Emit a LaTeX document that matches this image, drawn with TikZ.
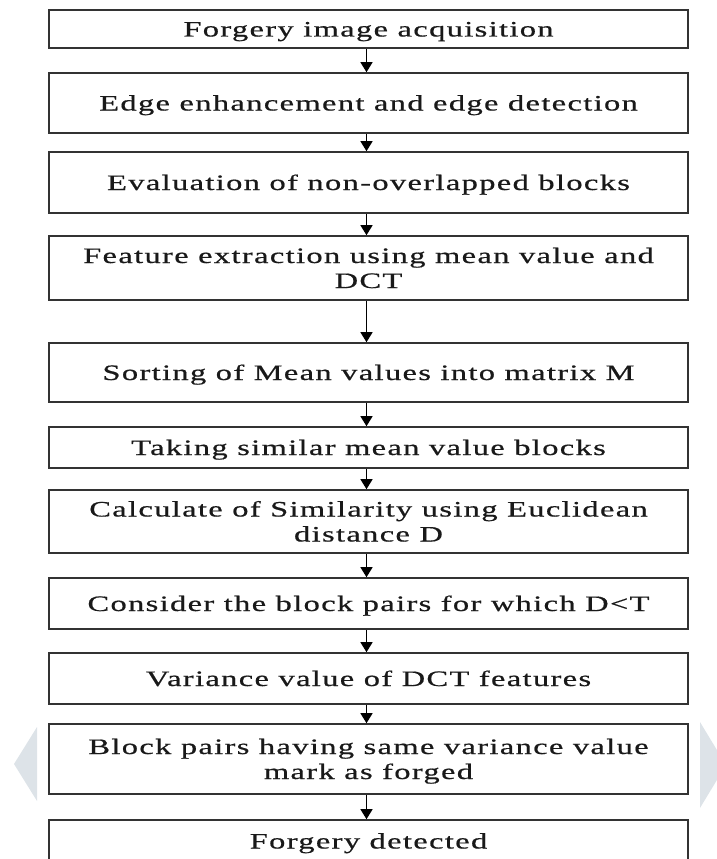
\documentclass[tikz,border=0pt]{standalone}
\usepackage{fontspec}
\usetikzlibrary{arrows.meta}
\newfontfamily\flowfont[FakeStretch=1.48,LetterSpace=6,FakeBold=0.6]{Liberation Serif}
\definecolor{edgegray}{HTML}{333333}
\definecolor{sidegray}{HTML}{DDE3E8}
\begin{document}
\begin{tikzpicture}[x=1pt,y=-1pt,
  stage/.style={draw=edgegray, line width=1.6pt, minimum width=639pt, inner sep=0pt,
    align=center, font=\flowfont\fontsize{22pt}{25pt}\selectfont, text=black!90},
  oneline/.style={text height=15pt, text depth=0pt},
  twoline/.style={text height=40pt, text depth=0pt},
  flow/.style={line width=1.3pt, draw=black, -{Triangle[width=12pt,length=10pt]}}]
\useasboundingbox (0,0) rectangle (717,859);
\clip (0,0) rectangle (717,859);
% light side arrows
\fill[sidegray] (37,727) -- (37,801) -- (14,764) -- cycle;
\fill[sidegray] (700,722) -- (700,808) -- (726,765) -- cycle;
% stages
\node[stage, oneline, minimum height=38pt] (b1) at (368.5,29) {Forgery image acquisition};
\node[stage, oneline, minimum height=60pt] (b2) at (368.5,103) {Edge enhancement and edge detection};
\node[stage, oneline, minimum height=61pt] (b3) at (368.5,182.5) {Evaluation of non-overlapped blocks};
\node[stage, twoline, minimum height=64pt] (b4) at (368.5,268) {Feature extraction using mean value and\\DCT};
\node[stage, oneline, minimum height=59pt] (b5) at (368.5,372.5) {Sorting of Mean values into matrix M};
\node[stage, oneline, minimum height=41pt] (b6) at (368.5,447.5) {Taking similar mean value blocks};
\node[stage, twoline, minimum height=63pt] (b7) at (368.5,521.5) {Calculate of Similarity using Euclidean\\distance D};
\node[stage, oneline, minimum height=51pt] (b8) at (368.5,603.5) {Consider the block pairs for which D<T};
\node[stage, oneline, minimum height=51pt] (b9) at (368.5,678.5) {Variance value of DCT features};
\node[stage, twoline, minimum height=70pt] (b10) at (368.5,759) {Block pairs having same variance value\\mark as forged};
\node[stage, oneline, minimum height=42pt] (b11) at (368.5,841) {Forgery detected};
% connectors
\foreach \a/\b in {b1/b2,b2/b3,b3/b4,b4/b5,b5/b6,b6/b7,b7/b8,b8/b9,b9/b10,b10/b11}
  \draw[flow] ([xshift=-2pt]\a.south) -- ([xshift=-2pt]\b.north);
\end{tikzpicture}
\end{document}
